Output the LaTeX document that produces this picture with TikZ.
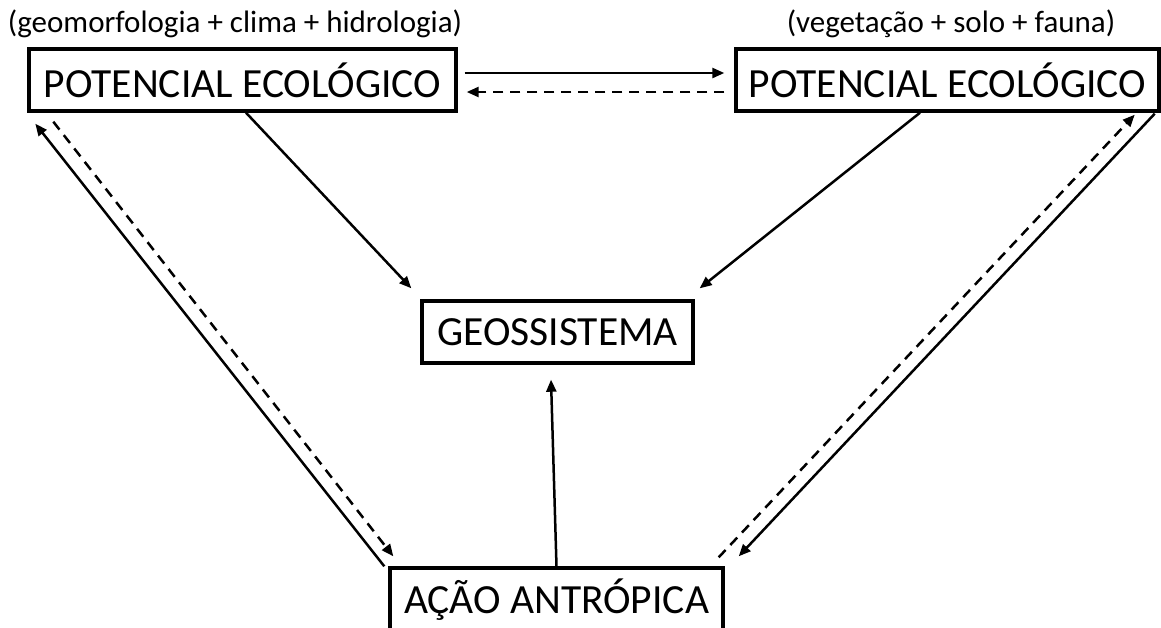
\documentclass[tikz,border=0pt]{standalone}
\usepackage{fontspec}
\setmainfont{Carlito}
\usetikzlibrary{arrows.meta,calc}

\tikzset{
  box/.style={draw, line width=3.4pt, inner sep=0pt, font=\fontsize{41.5}{44}\selectfont},
  note/.style={inner sep=0pt, anchor=base, font=\fontsize{31}{34}\selectfont},
  link/.style={line width=2.5pt, -{Triangle[length=12pt,width=10pt]}},
  dashlink/.style={link, dash pattern=on 10pt off 7pt},
}

\begin{document}
\begin{tikzpicture}[x=1pt,y=1pt]
\useasboundingbox (0,0) rectangle (1161,-627);
\clip (0,0) rectangle (1161,-627);

% labels above the two upper boxes
\node[note] (ln) at (235,-32) {(geomorfologia + clima + hidrologia)};
\node[note] (rn) at (951,-32) {(vegetação + solo + fauna)};

% boxes
\node[box, minimum width=427pt, minimum height=62pt] (L) at (242.5,-80) {POTENCIAL ECOLÓGICO};
\node[box, minimum width=423pt, minimum height=62pt] (R) at (947.5,-80) {POTENCIAL ECOLÓGICO};
\node[box, minimum width=271pt, minimum height=62pt] (G) at (557.5,-332) {GEOSSISTEMA};
\node[box, minimum width=333pt, minimum height=63pt] (A) at (556.5,-599.5) {AÇÃO ANTRÓPICA};

% exchange between the two potentials
\draw[link] ($(L.east)+(7,7)$) -- ($(R.west)+(-10,7)$);
\draw[dashlink] ($(R.west)+(-10,-12)$) -- ($(L.east)+(9,-12)$);

% into the geosystem
\draw[link] ($(L.south)+(3.5,0)$) -- ($(G.north west)+(-9,11)$);
\draw[link] ($(R.south)+(-27.5,0)$) -- ($(G.north east)+(5,11)$);
\draw[link] (A.north) -- ($(G.south)+(-6.5,-15)$);

% human action and the left potential
\draw[link] ($(A.north west)+(-4,0)$) -- ($(L.south west)+(8,-11)$);
\draw[dashlink] ($(L.south west)+(26,-9)$) -- ($(A.north west)+(5,10)$);

% human action and the right potential
\draw[dashlink] ($(A.north east)+(-6,9)$) -- ($(R.south east)+(-26,-2)$);
\draw[link] ($(R.south east)+(-6,-1)$) -- ($(A.north east)+(14,10)$);
\end{tikzpicture}
\end{document}
